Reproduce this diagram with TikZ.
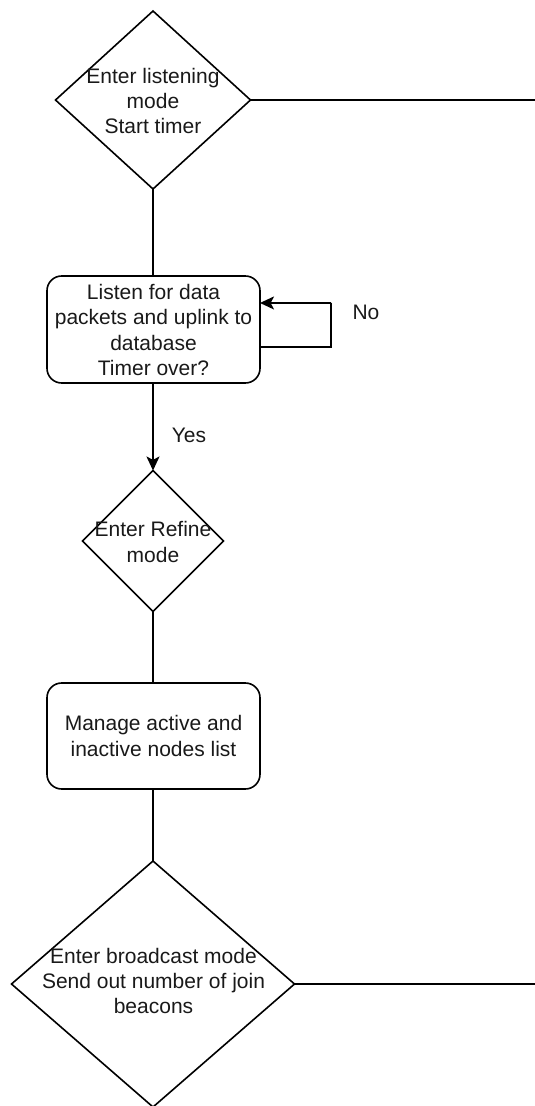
\documentclass[tikz,border=0pt]{standalone}
\usepackage{fontspec}
\setmainfont{Liberation Sans}
\usetikzlibrary{shapes.geometric,arrows.meta}
\begin{document}
\begin{tikzpicture}[x=0.75pt,y=-0.75pt,
  line width=1.2pt,
  every node/.style={outer sep=0pt},
  dia/.style={draw,shape=diamond,inner sep=0pt},
  procbox/.style={draw,rectangle,rounded corners=11pt,inner sep=0pt,
    minimum width=159.75pt},
  txt/.style={align=center,text=black!90,font=\fontsize{15.75pt}{18.9pt}\selectfont},
  arr/.style={-{Stealth[length=10.5pt,width=9.75pt,inset=2.5pt]}}]
\useasboundingbox (0,0) rectangle (535,1106);

% decision: listening mode
\node[dia,minimum width=146.25pt,minimum height=133.5pt] (d1) at (153,100) {};
\node[txt] (t1) at (153,101) {Enter listening\\mode\\Start timer};
\coordinate (e1) at (535,100);

% process: listen and uplink
\node[procbox,minimum height=80.25pt] (r1) at (153.5,329.5) {};
\node[txt] (t2) at (153.5,330) {Listen for data\\packets and uplink to\\database\\Timer over?};
\coordinate (la) at (331,347);
\coordinate (lb) at (331,303);

% decision: refine mode
\node[dia,minimum width=105.75pt,minimum height=105.75pt] (d2) at (153,541) {};
\node[txt] (t3) at (153,542) {Enter Refine\\mode};

% process: node lists
\node[procbox,minimum height=79.5pt] (r2) at (153.5,736) {};
\node[txt] (t4) at (153.5,736) {Manage active and\\inactive nodes list};

% decision: broadcast mode
\node[dia,minimum width=212.25pt,minimum height=184.5pt] (d3) at (153,984) {};
\node[txt] (t5) at (153.5,981) {Enter broadcast mode\\Send out number of join\\beacons};
\coordinate (e3) at (535,984);

% connectors
\draw (d1.east) -- (e1);
\draw (d1.south) -- (r1.north -| d1.south);
\draw ([yshift=-13.1pt]r1.east) -- (la) -- (lb);
\draw[arr] (lb) -- ([yshift=19.9pt]r1.east);
\draw[arr] (r1.south -| d2.north) -- (d2.north);
\draw (d2.south) -- (r2.north -| d2.south);
\draw (r2.south -| d3.north) -- (d3.north);
\draw (d3.east) -- (e3);

% branch labels
\node[txt] (no) at (366,312) {No};
\node[txt] (yes) at (189,435) {Yes};
\end{tikzpicture}
\end{document}
